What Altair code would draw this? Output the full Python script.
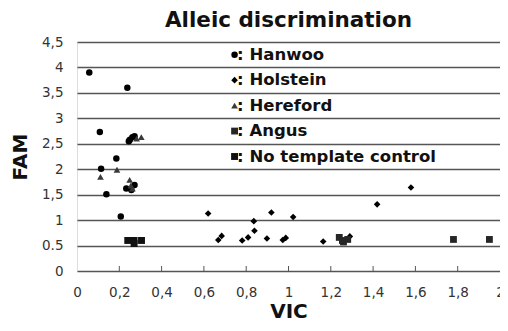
import altair as alt
import pandas as pd

# ---- data ----
hanwoo_x = [0.058, 0.238, 0.108, 0.186, 0.114, 0.139, 0.207, 0.233, 0.272, 0.257, 0.25, 0.262, 0.272, 0.245]
hanwoo_y = [3.90, 3.60, 2.73, 2.21, 2.01, 1.51, 1.07, 1.62, 1.69, 1.59, 2.58, 2.63, 2.65, 2.55]

holstein_x = [0.620, 0.668, 0.684, 0.781, 0.809, 0.836, 0.839, 0.898, 0.919, 0.973, 0.987, 1.022, 1.164, 1.29, 1.419, 1.579]
holstein_y = [1.13, 0.61, 0.69, 0.60, 0.66, 0.98, 0.79, 0.64, 1.15, 0.61, 0.65, 1.06, 0.58, 0.68, 1.31, 1.64]

hereford_x = [0.111, 0.189, 0.249, 0.255, 0.262, 0.304, 0.282]
hereford_y = [1.85, 1.99, 1.79, 1.68, 1.62, 2.63, 2.60]

angus_x = [1.24, 1.26, 1.28, 1.255, 1.78, 1.95]
angus_y = [0.66, 0.57, 0.62, 0.60, 0.62, 0.62]

ntc_x = [0.24, 0.27, 0.305, 0.27]
ntc_y = [0.60, 0.60, 0.60, 0.54]

series = ["Hanwoo", "Holstein", "Hereford", "Angus", "No template control"]
legend_y = [4.25, 3.75, 3.25, 2.75, 2.25]
legend_marker_x = 0.745
legend_text_x = 0.757

x_ticks = [0.2, 0.4, 0.6, 0.8, 1.0, 1.2, 1.4, 1.6, 1.8]
x_labels = [0, 0.2, 0.4, 0.6, 0.8, 1.0, 1.2, 1.4, 1.6, 1.8, 2.0]
y_ticks = [0, 0.5, 1, 1.5, 2, 2.5, 3, 3.5, 4, 4.5]

# ---- build tables ----
rows = []
for name, xs, ys in [("Hanwoo", hanwoo_x, hanwoo_y), ("Holstein", holstein_x, holstein_y),
                     ("Hereford", hereford_x, hereford_y), ("Angus", angus_x, angus_y),
                     ("No template control", ntc_x, ntc_y)]:
    for a, b in zip(xs, ys):
        rows.append({"series": name, "VIC": a, "FAM": b})
df = pd.DataFrame(rows)

leg = pd.DataFrame({"series": series, "FAM": legend_y,
                    "mx": [legend_marker_x] * 5, "tx": [legend_text_x] * 5,
                    "label": [": " + s for s in series]})
ticks = pd.DataFrame({"t": x_ticks})

W, H = 423, 229
FONT = "DejaVu Sans"

xscale = alt.Scale(domain=[0, 2], nice=False, zero=True)
yscale = alt.Scale(domain=[0, 4.5], nice=False)

x_axis = alt.Axis(values=x_labels, format="~g",
                  labelExpr="replace(datum.label, '.', ',')",
                  ticks=False, domain=False, grid=False, labelOverlap=False,
                  labelFont=FONT, labelFontSize=13.5, labelColor="#333333",
                  labelPadding=14, labelFlush=False,
                  title="VIC", titleFont=FONT, titleFontSize=20, titleFontWeight="bold",
                  titleColor="#111111", titlePadding=3)
y_axis = alt.Axis(values=y_ticks, format="~g", tickCount=10,
                  labelExpr="datum.value == 0.5 ? '0.5' : replace(datum.label, '.', ',')",
                  ticks=False, domain=False, grid=True, gridColor="#555555", gridWidth=1.5,
                  labelOverlap=False,
                  labelFont=FONT, labelFontSize=13.5, labelColor="#333333", labelPadding=14,
                  title="FAM", titleFont=FONT, titleFontSize=20, titleFontWeight="bold",
                  titleColor="#111111", titleX=-57, titleBaseline="middle")

shape_scale = alt.Scale(domain=series, range=["circle", "diamond", "triangle-up", "square", "square"])
color_scale = alt.Scale(domain=series, range=["#000000", "#000000", "#3a3a3a", "#262626", "#111111"])
size_scale = alt.Scale(domain=series, range=[42, 48, 50, 75, 42])

points = alt.Chart(df).mark_point(filled=True, opacity=1, strokeWidth=0).encode(
    x=alt.X("VIC:Q", scale=xscale, axis=x_axis),
    y=alt.Y("FAM:Q", scale=yscale, axis=y_axis),
    shape=alt.Shape("series:N", scale=shape_scale, legend=None),
    color=alt.Color("series:N", scale=color_scale, legend=None),
    size=alt.Size("series:N", scale=size_scale, legend=None),
)

tick_rules = alt.Chart(ticks).mark_rule(color="#555555", strokeWidth=1).encode(
    x=alt.X("t:Q", scale=xscale, axis=x_axis),
    y=alt.value(H), y2=alt.value(H - 5),
)

leg_marks = alt.Chart(leg).mark_point(filled=True, opacity=1, strokeWidth=0).encode(
    x=alt.X("mx:Q", scale=xscale, axis=x_axis),
    y=alt.Y("FAM:Q", scale=yscale, axis=y_axis),
    shape=alt.Shape("series:N", scale=shape_scale, legend=None),
    color=alt.Color("series:N", scale=color_scale, legend=None),
    size=alt.Size("series:N", scale=alt.Scale(domain=series, range=[30, 30, 40, 90, 40]), legend=None),
)

leg_text = alt.Chart(leg).mark_text(align="left", baseline="middle", font=FONT,
                                    fontSize=16.5, fontWeight="bold", color="#111111").encode(
    x=alt.X("tx:Q", scale=xscale, axis=x_axis),
    y=alt.Y("FAM:Q", scale=yscale, axis=y_axis),
    text="label:N",
)

chart = alt.layer(points, tick_rules, leg_marks, leg_text).properties(
    width=W, height=H,
    title=alt.TitleParams("Alleic discrimination", font=FONT, fontSize=21.5, fontWeight="bold",
                          color="#111111", anchor="middle", offset=4),
    autosize=alt.AutoSizeParams(type="none"),
    padding={"left": 69, "top": 34, "right": 0, "bottom": 52},
).configure_view(stroke="#666666", strokeWidth=1.5).configure(background="white")

chart.save("out.html", embed_options={"renderer": "svg", "actions": False})
